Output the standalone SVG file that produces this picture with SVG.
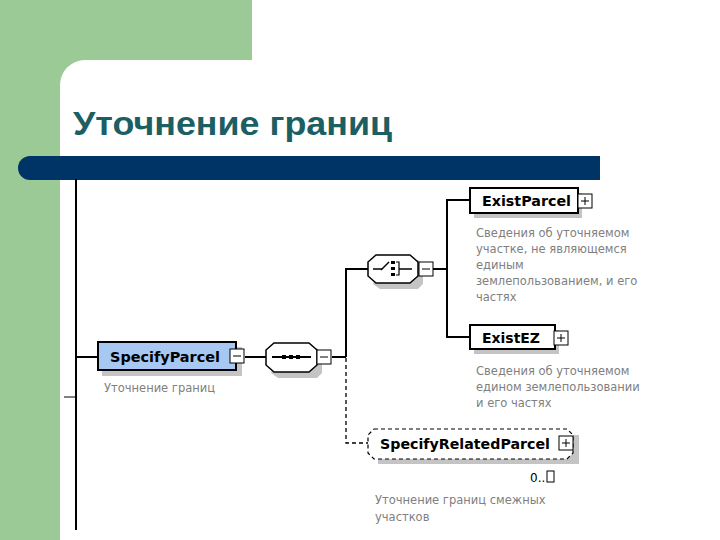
<svg xmlns="http://www.w3.org/2000/svg" width="720" height="540" viewBox="0 0 720 540">
<style>
.lbl{font-family:"DejaVu Sans","Liberation Sans",Arial,sans-serif;font-weight:bold;font-size:14px;fill:#000}
.desc{font-family:"DejaVu Sans","Liberation Sans",sans-serif;font-size:11.5px;fill:#808080}
.ln{stroke:#000;stroke-width:2;fill:none}
.dash{stroke:#000;stroke-width:1.3;fill:none;stroke-dasharray:4,3}
.shadow{fill:#c4c4c4}
.box{fill:#fff;stroke:#000;stroke-width:2}
.btn{fill:#fff;stroke:#000;stroke-width:1}
</style>
<rect width="720" height="540" fill="#fff"/>
<rect x="0" y="0" width="252" height="60" fill="#9cca97"/>
<rect x="0" y="0" width="60" height="540" fill="#9cca97"/>
<path d="M60 60 L85 60 A25 25 0 0 0 60 85 Z" fill="#9cca97"/>
<text x="73" y="135" font-family="'Liberation Sans',Arial,sans-serif" font-weight="bold" font-size="34" fill="#1b5f63" textLength="319" lengthAdjust="spacingAndGlyphs">Уточнение границ</text>
<path d="M30 156 L600 156 L600 180 L30 180 A12 12 0 0 1 30 156 Z" fill="#003366"/>

<g id="connectors">
<line class="ln" x1="76" y1="179" x2="76" y2="530"/>
<line x1="64" y1="397" x2="76" y2="397" stroke="#000" stroke-width="1"/>
<line class="ln" x1="76" y1="357" x2="98" y2="357"/>
<line class="ln" x1="245" y1="357" x2="266" y2="357"/>
<line class="ln" x1="332" y1="357" x2="346" y2="357"/>
<polyline class="ln" points="368,269 346,269 346,357"/>
<polyline class="dash" points="346,358 346,443 368,443"/>
<line class="ln" x1="433" y1="269" x2="447" y2="269"/>
<polyline class="ln" points="470,200 447,200 447,337 470,337"/>
</g>

<g id="SpecifyParcel">
<rect class="shadow" x="102" y="347" width="140" height="29"/>
<rect x="98" y="342" width="138" height="28" fill="#a6c8f2" stroke="#000" stroke-width="2"/>
<text class="lbl" x="110" y="362" textLength="110" lengthAdjust="spacingAndGlyphs">SpecifyParcel</text>
<rect class="btn" x="230" y="349" width="14" height="14"/>
<line x1="233" y1="356" x2="241" y2="356" stroke="#000" stroke-width="1"/>
<text class="desc" x="104" y="392">Уточнение границ</text>
</g>

<g id="sequence">
<path class="shadow" d="M278 348 L317 348 L322 355 L322 373 L317 378 L278 378 L271 373 Z"/>
<path d="M274 343 L309 343 L317 350 L317 365 L309 372 L274 372 L266 365 L266 350 Z" fill="#fff" stroke="#000" stroke-width="1.5"/>
<line x1="272" y1="357" x2="311" y2="357" stroke="#000" stroke-width="2"/>
<rect x="282" y="355" width="4" height="4"/>
<rect x="289" y="355" width="4" height="4"/>
<rect x="296" y="355" width="4" height="4"/>
<rect class="btn" x="317" y="350" width="14" height="14"/>
<line x1="320" y1="357" x2="328" y2="357" stroke="#000" stroke-width="1"/>
</g>

<g id="choice">
<path class="shadow" d="M380 260 L418 260 L423 266 L423 284 L418 289 L380 289 L373 284 Z"/>
<path d="M376 255 L410 255 L418 262 L418 276 L410 283 L376 283 L368 276 L368 262 Z" fill="#fff" stroke="#000" stroke-width="1.5"/>
<line x1="373" y1="269" x2="382" y2="269" stroke="#000" stroke-width="1.5"/>
<line x1="381" y1="270" x2="389" y2="262" stroke="#000" stroke-width="1.5"/>
<rect x="391" y="261" width="4" height="3"/>
<rect x="391" y="267" width="4" height="3"/>
<rect x="391" y="273" width="4" height="3"/>
<polyline points="396,262 399,262 399,275 396,275" fill="none" stroke="#000" stroke-width="1.2"/>
<line x1="399" y1="269" x2="412" y2="269" stroke="#000" stroke-width="1.5"/>
<rect class="btn" x="419" y="262" width="14" height="14"/>
<line x1="422" y1="269" x2="430" y2="269" stroke="#000" stroke-width="1"/>
</g>

<g id="ExistParcel">
<rect class="shadow" x="474" y="193" width="108" height="25"/>
<rect class="box" x="470" y="188" width="108" height="25"/>
<text class="lbl" x="482" y="206" textLength="89" lengthAdjust="spacingAndGlyphs">ExistParcel</text>
<rect class="btn" x="578" y="194" width="14" height="14"/>
<line x1="581" y1="201" x2="589" y2="201" stroke="#000" stroke-width="1"/>
<line x1="585" y1="197" x2="585" y2="205" stroke="#000" stroke-width="1"/>
<text class="desc" x="476" y="237">Сведения об уточняемом</text>
<text class="desc" x="476" y="253">участке, не являющемся</text>
<text class="desc" x="476" y="269">единым</text>
<text class="desc" x="476" y="285">землепользованием, и его</text>
<text class="desc" x="476" y="301">частях</text>
</g>

<g id="ExistEZ">
<rect class="shadow" x="474" y="330" width="85" height="24"/>
<rect class="box" x="470" y="325" width="85" height="24"/>
<text class="lbl" x="482" y="343" textLength="58" lengthAdjust="spacingAndGlyphs">ExistEZ</text>
<rect class="btn" x="554" y="331" width="14" height="14"/>
<line x1="557" y1="338" x2="565" y2="338" stroke="#000" stroke-width="1"/>
<line x1="561" y1="334" x2="561" y2="342" stroke="#000" stroke-width="1"/>
<text class="desc" x="476" y="375">Сведения об уточняемом</text>
<text class="desc" x="476" y="391">едином землепользовании</text>
<text class="desc" x="476" y="407">и его частях</text>
</g>

<g id="SpecifyRelatedParcel">
<rect class="shadow" x="378" y="435" width="201" height="29"/>
<path d="M374 429 L567 429 L573 435 L573 453 L567 459 L374 459 L368 453 L368 435 Z" fill="#fff" stroke="#000" stroke-width="1.2" stroke-dasharray="4,3"/>
<text class="lbl" x="380" y="449" textLength="170" lengthAdjust="spacingAndGlyphs">SpecifyRelatedParcel</text>
<rect class="btn" x="559" y="436" width="14" height="14"/>
<line x1="562" y1="443" x2="570" y2="443" stroke="#000" stroke-width="1"/>
<line x1="566" y1="439" x2="566" y2="447" stroke="#000" stroke-width="1"/>
<text x="530" y="482" font-family="'DejaVu Sans',sans-serif" font-size="12" fill="#000">0..</text>
<rect x="547" y="471" width="7" height="11" fill="#fff" stroke="#000" stroke-width="1"/>
<text class="desc" x="375" y="504">Уточнение границ смежных</text>
<text class="desc" x="375" y="521">участков</text>
</g>
</svg>
